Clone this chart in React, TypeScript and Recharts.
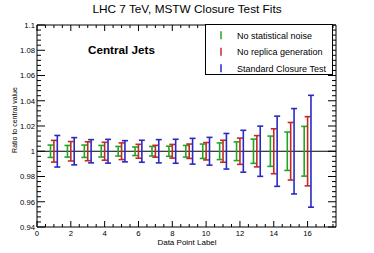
import React from 'react';
import { ComposedChart, Scatter, ErrorBar, XAxis, YAxis, ReferenceLine } from 'recharts';

// data point labels (x) and half-width of each error bar (ratio units)
const pointLabels = [1, 2, 3, 4, 5, 6, 7, 8, 9, 10, 11, 12, 13, 14, 15, 16];
const noStatNoiseErr = [0.0049, 0.0046, 0.0049, 0.0046, 0.0038, 0.0034, 0.0038, 0.004, 0.0046, 0.0057, 0.0066, 0.0074, 0.0096, 0.012, 0.0152, 0.0197];
const noReplicaErr = [0.0086, 0.0077, 0.0075, 0.0071, 0.0066, 0.0055, 0.0047, 0.0054, 0.0057, 0.0069, 0.0087, 0.0104, 0.0124, 0.0178, 0.0228, 0.0274];
const closureErr = [0.0125, 0.0108, 0.0092, 0.0094, 0.0084, 0.0087, 0.0092, 0.0095, 0.0102, 0.011, 0.0141, 0.0166, 0.0199, 0.0278, 0.0338, 0.0443];
const CENTRAL = 1;

const seriesNames = ['No statistical noise', 'No replica generation', 'Standard Closure Test'];
const seriesColors = ['#22a622', '#c22a2a', '#2a2ac2'];
const seriesShift = [-0.2, 0, 0.2];

const xMajorTicks = [0, 2, 4, 6, 8, 10, 12, 14, 16];
const xTickLabels = ['0', '2', '4', '6', '8', '10', '12', '14', '16'];
const yMajorTicks = [0.94, 0.96, 0.98, 1, 1.02, 1.04, 1.06, 1.08, 1.1];
const yTickLabels = ['0.94', '0.96', '0.98', '1', '1.02', '1.04', '1.06', '1.08', '1.1'];

const X_MAX = 17.68;
const FONT = '"Liberation Sans", Arial, Helvetica, sans-serif';

// minor ticks: 4 per major step on x, 5 per major step on y
const xAllTicks: number[] = [];
for (let k = 0; k * 0.5 <= X_MAX; k++) xAllTicks.push(k * 0.5);
const yAllTicks: number[] = [];
for (let i = 0; i < yMajorTicks.length - 1; i++) {
  for (let j = 0; j < 5; j++) yAllTicks.push(Math.round((yMajorTicks[i] + j * 0.004) * 1000) / 1000);
}
yAllTicks.push(yMajorTicks[yMajorTicks.length - 1]);

const buildSeries = (errs: number[], shift: number) =>
  pointLabels.map((p, i) => ({ x: p + shift, y: CENTRAL, err: errs[i] }));

const allErrs = [noStatNoiseErr, noReplicaErr, closureErr];

const isMajorY = (v: number) => Math.round(v * 1000) % 20 === 0;

// eslint-disable-next-line @typescript-eslint/no-explicit-any
const BottomTick = ({ x, y, payload }: any) => {
  const idx = xMajorTicks.indexOf(payload.value);
  return (
    <g>
      <line x1={x} x2={x} y1={y} y2={y - (idx >= 0 ? 6 : 3)} stroke="#000" />
      {idx >= 0 && (
        <text x={x} y={y + 8.5} textAnchor="middle" fontSize={7.7} fontFamily={FONT} fill="#000">
          {xTickLabels[idx]}
        </text>
      )}
    </g>
  );
};

// eslint-disable-next-line @typescript-eslint/no-explicit-any
const TopTick = ({ x, y, payload }: any) => {
  const major = xMajorTicks.indexOf(payload.value) >= 0;
  return <line x1={x} x2={x} y1={y} y2={y + (major ? 6 : 3)} stroke="#000" />;
};

// eslint-disable-next-line @typescript-eslint/no-explicit-any
const LeftTick = ({ x, y, payload }: any) => {
  const major = isMajorY(payload.value);
  const idx = yMajorTicks.findIndex((t) => Math.abs(t - payload.value) < 1e-6);
  return (
    <g>
      <line x1={x} x2={x + (major ? 8 : 4)} y1={y} y2={y} stroke="#000" />
      {idx >= 0 && (
        <text x={x - 2} y={y + 2.8} textAnchor="end" fontSize={7.7} fontFamily={FONT} fill="#000">
          {yTickLabels[idx]}
        </text>
      )}
    </g>
  );
};

// eslint-disable-next-line @typescript-eslint/no-explicit-any
const RightTick = ({ x, y, payload }: any) => {
  const major = isMajorY(payload.value);
  return <line x1={x} x2={x - (major ? 8 : 4)} y1={y} y2={y} stroke="#000" />;
};

// ROOT-style legend box in the top right corner of the frame
const LegendBox = () => (
  <div
    style={{
      position: 'absolute', left: 205, top: 24, width: 128, height: 51,
      boxSizing: 'border-box', borderStyle: 'solid', borderWidth: 1, borderColor: '#000',
      background: '#fff', zIndex: 5,
    }}
  >
    <svg width={126} height={49} style={{ position: 'absolute', left: 0, top: 0, fontFamily: FONT }}>
      {seriesNames.map((name, i) => {
        const cy = 10.3 + i * 16.5;
        return (
          <g key={name}>
            <line x1={15} x2={15} y1={cy - 4} y2={cy + 4} stroke={seriesColors[i]} strokeWidth={1.5} />
            <text x={31} y={cy + 3.2} fontSize={9} fill="#000">
              {name}
            </text>
          </g>
        );
      })}
    </svg>
  </div>
);

const EmptyShape = () => <g />;

export default function App() {
  return (
    <div style={{ position: 'absolute', left: 0, top: 0, width: 374, height: 253, background: '#fff' }}>
      <ComposedChart width={374} height={253} margin={{ top: 24, right: 37, bottom: 25, left: 36 }}>
        <XAxis
          xAxisId="b"
          type="number"
          dataKey="x"
          domain={[0, X_MAX]}
          allowDataOverflow
          ticks={xAllTicks}
          interval={0}
          tickSize={0}
          tickMargin={0}
          height={1}
          tick={BottomTick}
          axisLine={{ stroke: '#000' }}
        />
        <XAxis
          xAxisId="t"
          orientation="top"
          type="number"
          dataKey="x"
          domain={[0, X_MAX]}
          allowDataOverflow
          ticks={xAllTicks}
          interval={0}
          tickSize={0}
          tickMargin={0}
          height={1}
          tick={TopTick}
          axisLine={{ stroke: '#000' }}
        />
        <YAxis
          yAxisId="l"
          type="number"
          domain={[0.94, 1.1]}
          allowDataOverflow
          ticks={yAllTicks}
          interval={0}
          tickSize={0}
          tickMargin={0}
          width={1}
          tick={LeftTick}
          axisLine={{ stroke: '#000' }}
        />
        <YAxis
          yAxisId="r"
          orientation="right"
          type="number"
          domain={[0.94, 1.1]}
          allowDataOverflow
          ticks={yAllTicks}
          interval={0}
          tickSize={0}
          tickMargin={0}
          width={1}
          tick={RightTick}
          axisLine={{ stroke: '#000' }}
        />
        <ReferenceLine xAxisId="b" yAxisId="l" y={CENTRAL} stroke="#000" strokeWidth={1} />
        {seriesNames.map((name, s) => (
          <Scatter
            key={name}
            name={name}
            xAxisId="b"
            yAxisId="l"
            dataKey="y"
            data={buildSeries(allErrs[s], seriesShift[s])}
            fill={seriesColors[s]}
            shape={EmptyShape}
            isAnimationActive={false}
          >
            <ErrorBar
              dataKey="err"
              direction="y"
              width={3}
              stroke={seriesColors[s]}
              strokeWidth={1.6}
              isAnimationActive={false}
            />
          </Scatter>
        ))}
      </ComposedChart>

      <LegendBox />

      <div
        style={{
          position: 'absolute', left: 0, top: 2, width: 374, textAlign: 'center',
          fontFamily: FONT, fontSize: 11.8, lineHeight: '14px', color: '#000',
        }}
      >
        LHC 7 TeV, MSTW Closure Test Fits
      </div>
      <div
        style={{
          position: 'absolute', left: 88, top: 43, fontFamily: FONT, fontSize: 11.7,
          fontWeight: 'bold', lineHeight: '14px', color: '#000', whiteSpace: 'nowrap',
        }}
      >
        Central Jets
      </div>
      <div
        style={{
          position: 'absolute', left: 14, top: 120, transform: 'translate(-50%, -50%) rotate(-90deg)',
          fontFamily: FONT, fontSize: 7, lineHeight: '9px', color: '#000', whiteSpace: 'nowrap',
        }}
      >
        Ratio to central value
      </div>
      <div
        style={{
          position: 'absolute', left: 187, top: 243, transform: 'translate(-50%, -50%)',
          fontFamily: FONT, fontSize: 8, lineHeight: '10px', color: '#000', whiteSpace: 'nowrap',
        }}
      >
        Data Point Label
      </div>
    </div>
  );
}
